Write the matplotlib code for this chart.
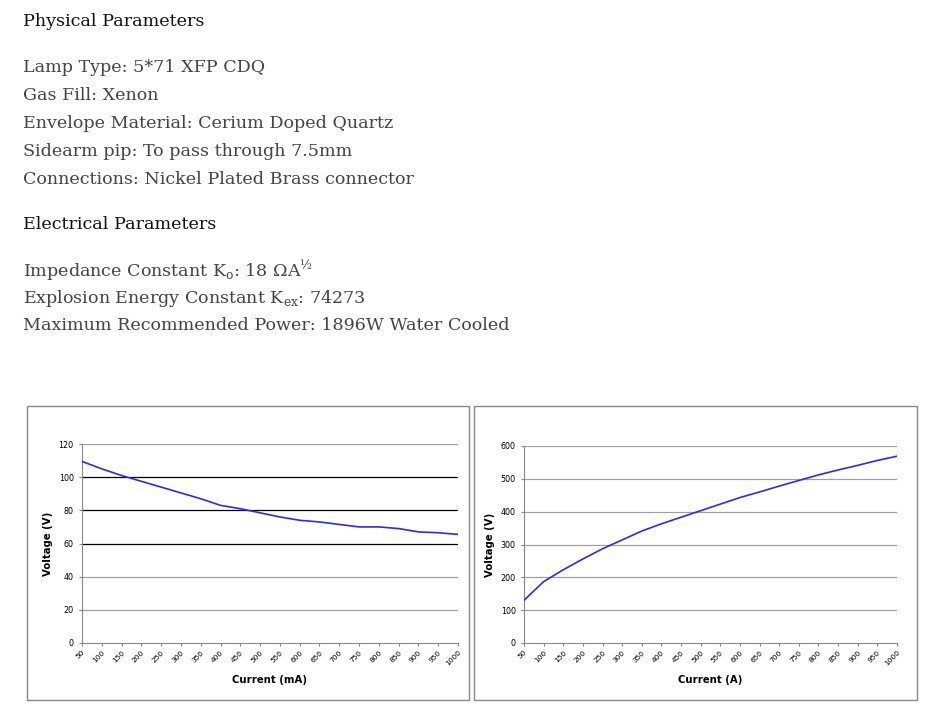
import matplotlib
matplotlib.use("Agg")
import matplotlib.pyplot as plt
from matplotlib.patches import Rectangle

# ---- data ----
current = [50, 100, 150, 200, 250, 300, 350, 400, 450, 500,
           550, 600, 650, 700, 750, 800, 850, 900, 950, 1000]
voltage_ma = [109.5, 105, 101, 97.5, 94, 90.5, 87, 83, 81, 78.5,
              76, 74, 73, 71.5, 70, 70, 69, 67, 66.5, 65.5]
voltage_a = [130, 187, 223, 256, 287, 314, 341, 363, 383, 403,
             423, 443, 460, 478, 495, 512, 527, 541, 556, 569]

physical = [
    "Lamp Type: 5*71 XFP CDQ",
    "Gas Fill: Xenon",
    "Envelope Material: Cerium Doped Quartz",
    "Sidearm pip: To pass through 7.5mm",
    "Connections: Nickel Plated Brass connector",
]
electrical = [
    r"Impedance Constant K$_\mathrm{o}$: 18 ΩA$^{\mathrm{½}}$",
    r"Explosion Energy Constant K$_\mathrm{ex}$: 74273",
    "Maximum Recommended Power: 1896W Water Cooled",
]

plt.rcParams["mathtext.fontset"] = "custom"
plt.rcParams["mathtext.rm"] = "DejaVu Serif"

W, H = 931, 707
fig = plt.figure(figsize=(W / 100, H / 100), dpi=100)


def fy(py):
    return 1 - py / H


serif = "DejaVu Serif"
fs = 12.6
fig.text(23 / W, fy(22), "Physical Parameters", family=serif, fontsize=fs,
         color="#111111", va="center")
for i, line in enumerate(physical):
    fig.text(23 / W, fy(68 + i * 27.8), line, family=serif, fontsize=fs,
             color="#444444", va="center")
fig.text(23 / W, fy(224), "Electrical Parameters", family=serif, fontsize=fs,
         color="#111111", va="center")
for i, line in enumerate(electrical):
    fig.text(23 / W, fy(271 + i * 27.5), line, family=serif, fontsize=fs,
             color="#444444", va="center")

# chart frames
for x0, x1 in [(27, 469), (474, 917)]:
    fig.add_artist(Rectangle((x0 / W, fy(700)), (x1 - x0) / W, 294 / H,
                             transform=fig.transFigure, fill=False,
                             edgecolor="#888888", lw=1.0))


def style_axis(ax, ymax, ystep, xlabel, dark=()):
    ax.set_xlim(0, len(current) - 1)
    ax.set_ylim(0, ymax)
    ax.set_yticks(range(0, ymax + 1, ystep))
    for v in range(ystep, ymax + 1, ystep):
        ax.axhline(v, color="black" if v in dark else "#a0a0a0",
                   lw=0.9, zorder=1)
    ax.set_xticks(range(len(current)))
    ax.set_xticklabels([str(c) for c in current], rotation=45, ha="right",
                       rotation_mode="anchor", fontsize=5.3)
    ax.tick_params(axis="y", labelsize=5.8, length=2.5, color="#888888")
    ax.tick_params(axis="x", length=2.5, color="#888888", pad=2)
    for s in ["top", "right"]:
        ax.spines[s].set_visible(False)
    for s in ["left", "bottom"]:
        ax.spines[s].set_color("#888888")
        ax.spines[s].set_linewidth(0.8)
    ax.set_xlabel(xlabel, fontsize=7.3, fontweight="bold", labelpad=6)
    ax.set_ylabel("Voltage (V)", fontsize=7.3, fontweight="bold", labelpad=4)


ax1 = fig.add_axes([82 / W, fy(643), 376 / W, 199 / H])
ax1.plot(range(len(current)), voltage_ma, color="#2b2bf0", lw=1.2, zorder=3)
style_axis(ax1, 120, 20, "Current (mA)", dark=(60, 80, 100))

ax2 = fig.add_axes([524 / W, fy(643), 373 / W, 197 / H])
ax2.plot(range(len(current)), voltage_a, color="#2b2bf0", lw=1.2, zorder=3)
style_axis(ax2, 600, 100, "Current (A)")

fig.savefig("out.png", dpi=100)
